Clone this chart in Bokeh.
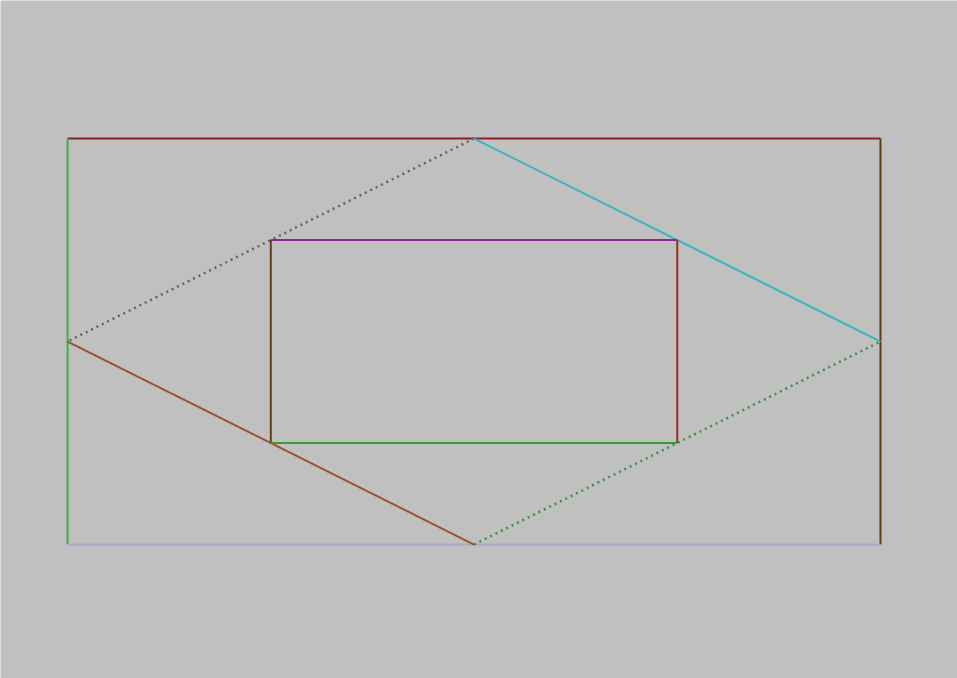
from bokeh.plotting import figure
from bokeh.embed import file_html
from bokeh.resources import INLINE

# segments: x0, y0, x1, y1 in grid units (outer box 4 x 2)
x0 = [0, 0, 4, 0, 2, 2, 0, 2, 1, 3, 1, 1]
y0 = [2, 0, 0, 0, 2, 2, 1, 0, 1.5, 0.5, 0.5, 0.5]
x1 = [4, 0, 4, 4, 0, 4, 2, 4, 3, 3, 1, 3]
y1 = [2, 2, 2, 0, 1, 1, 0, 1, 1.5, 1.5, 1.5, 0.5]
colors = ["#8b2020", "#3cb043", "#5a4010", "#a8a8c8", "#606070", "#30b8c0",
          "#a05030", "#3a9040", "#9a209a", "#a02828", "#604018", "#30a030"]
dashes = ["solid", "solid", "solid", "solid", "2 4", "solid",
          "solid", "2 4", "solid", "solid", "solid", "solid"]

p = figure(width=957, height=678, x_range=(-0.330, 4.379), y_range=(-0.660, 2.680),
           output_backend="svg", toolbar_location=None, min_border=0)
p.background_fill_color = "#c0c0c0"
p.border_fill_color = "#c0c0c0"
p.outline_line_color = None
p.axis.visible = False
p.xgrid.visible = False
p.ygrid.visible = False

for i in range(len(x0)):
    p.segment(x0=[x0[i]], y0=[y0[i]], x1=[x1[i]], y1=[y1[i]], line_color=colors[i],
              line_width=2.5 if dashes[i] != "solid" else 2, line_dash=dashes[i])

open("out.html", "w").write(file_html(p, INLINE))
